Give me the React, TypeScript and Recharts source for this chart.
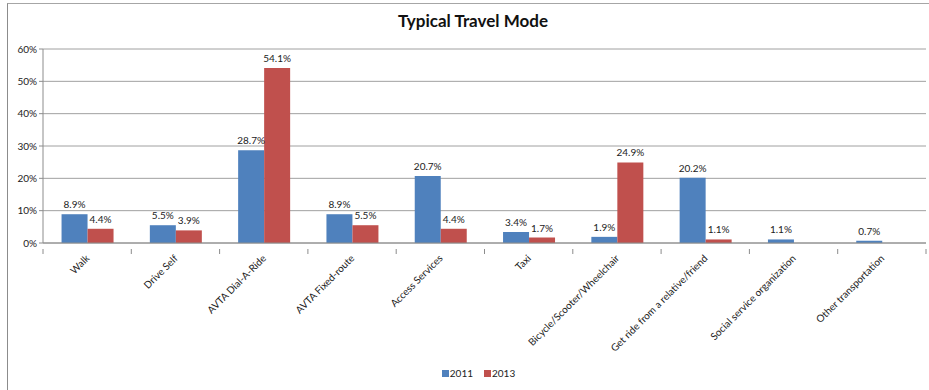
import { BarChart, Bar, XAxis, YAxis, CartesianGrid, Legend, LabelList } from 'recharts'

// ─── Data ────────────────────────────────────────────────────────────────────

const modes = [
  'Walk',
  'Drive Self',
  'AVTA Dial-A-Ride',
  'AVTA Fixed-route',
  'Access Services',
  'Taxi',
  'Bicycle/Scooter/Wheelchair',
  'Get ride from a relative/friend',
  'Social service organization',
  'Other transportation',
]
const share2011 = [8.9, 5.5, 28.7, 8.9, 20.7, 3.4, 1.9, 20.2, 1.1, 0.7]
const share2013: (number | null)[] = [4.4, 3.9, 54.1, 5.5, 4.4, 1.7, 24.9, 1.1, null, null]
const yTicks = [0, 10, 20, 30, 40, 50, 60]

const BLUE = '#4F81BD'
const RED = '#C0504D'
const FONT = 'Lato, "Open Sans", sans-serif'

const rows = modes.map((m, i) => ({ mode: m, y2011: share2011[i], y2013: share2013[i] }))

// ─── Custom pieces ───────────────────────────────────────────────────────────

const BAND = 883 / modes.length

const CategoryTick = (props: any) => {
  const { x, y, payload, index } = props
  const isLast = index === modes.length - 1
  return (
    <g>
      <line x1={x - BAND / 2} x2={x - BAND / 2} y1={y - 2} y2={y + 3} stroke="#8c8c8c" />
      {isLast && <line x1={x + BAND / 2} x2={x + BAND / 2} y1={y - 2} y2={y + 3} stroke="#8c8c8c" />}
      <text
        x={x + 3}
        y={y + 8}
        transform={`rotate(-45, ${x + 3}, ${y + 8})`}
        textAnchor="end"
        fontSize={10}
        fontFamily={FONT}
        fill="#222"
      >
        {payload.value}
      </text>
    </g>
  )
}

const LegendBox = () => (
  <div style={{ display: 'flex', justifyContent: 'center', gap: 11, fontFamily: FONT, fontSize: 10, color: '#222', paddingLeft: 24, paddingTop: 3 }}>
    {[
      { name: '2011', color: BLUE },
      { name: '2013', color: RED },
    ].map((it) => (
      <span key={it.name} style={{ display: 'flex', alignItems: 'center' }}>
        <span style={{ width: 7, height: 7, background: it.color, display: 'inline-block', marginRight: 1 }} />
        {it.name}
      </span>
    ))}
  </div>
)

const pct = (v: any) => (v == null ? '' : `${Number(v).toFixed(1)}%`)

// ─── App ─────────────────────────────────────────────────────────────────────

export default function App() {
  return (
    <div style={{ position: 'absolute', left: 0, top: 0, width: 929, height: 390, background: '#fff', overflow: 'hidden' }}>
      <div
        style={{
          position: 'absolute',
          left: 7,
          top: 3,
          width: 940,
          height: 400,
          borderLeft: '1.5px solid #8c8c8c',
          borderTop: '1.5px solid #a6a6a6',
        }}
      />
      <div
        style={{
          position: 'absolute',
          left: 0,
          width: 946,
          top: 10,
          textAlign: 'center',
          fontFamily: FONT,
          fontWeight: 700,
          fontSize: 17,
          color: '#111',
        }}
      >
        Typical Travel Mode
      </div>
      <BarChart
        width={929}
        height={390}
        data={rows}
        margin={{ top: 49, right: 3, left: 7, bottom: 6 }}
        barCategoryGap="21%"
        barGap={0}
        style={{ position: 'absolute', left: 0, top: 0 }}
      >
        <CartesianGrid vertical={false} stroke="#a0a0a0" />
        <XAxis
          dataKey="mode"
          interval={0}
          height={121}
          tick={<CategoryTick />}
          tickLine={false}
          axisLine={{ stroke: '#8c8c8c' }}
        />
        <YAxis
          width={36}
          domain={[0, 60]}
          ticks={yTicks}
          tickFormatter={(v: number) => `${v}%`}
          tick={{ fontSize: 10, fontFamily: FONT, fill: '#222' }}
          tickSize={4}
          tickLine={{ stroke: '#8c8c8c' }}
          axisLine={{ stroke: '#8c8c8c' }}
        />
        <Legend verticalAlign="bottom" height={20} content={<LegendBox />} />
        <Bar dataKey="y2011" name="2011" fill={BLUE} isAnimationActive={false}>
          <LabelList dataKey="y2011" position="top" formatter={pct} fontSize={10} fontFamily={FONT} fill="#222" offset={6} />
        </Bar>
        <Bar dataKey="y2013" name="2013" fill={RED} isAnimationActive={false}>
          <LabelList dataKey="y2013" position="top" formatter={pct} fontSize={10} fontFamily={FONT} fill="#222" offset={6} />
        </Bar>
      </BarChart>
    </div>
  )
}
